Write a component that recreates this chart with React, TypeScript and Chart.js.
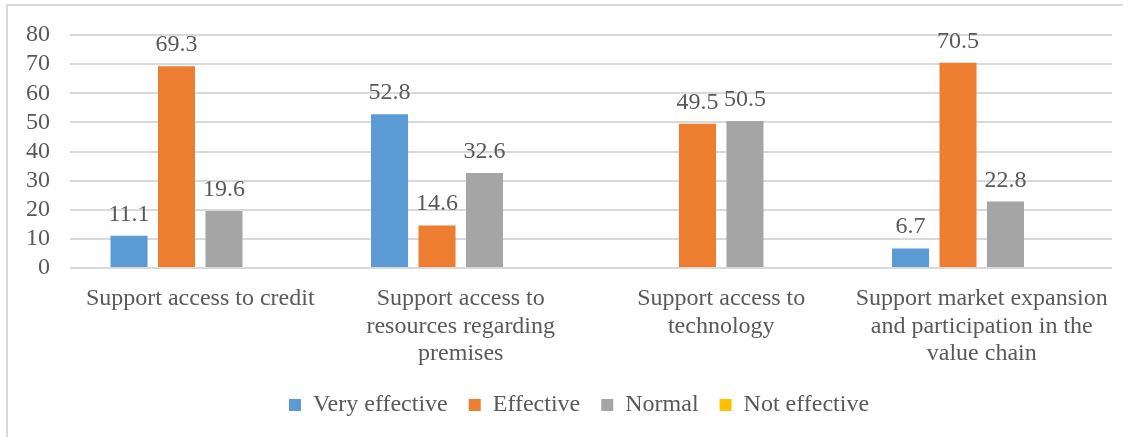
import React, { useEffect, useRef } from "react";
import { Chart, registerables } from "chart.js";

Chart.register(...registerables);

const categories: string[][] = [
  ["Support access to credit"],
  ["Support access to", "resources regarding", "premises"],
  ["Support access to", "technology"],
  ["Support market expansion", "and participation in the", "value chain"],
];
const seriesNames = ["Very effective", "Effective", "Normal", "Not effective"];
const veryEffective = [11.1, 52.8, 0, 6.7];
const effective = [69.3, 14.6, 49.5, 70.5];
const normal = [19.6, 32.6, 50.5, 22.8];
const notEffective = [0, 0, 0, 0];
const yTicks = [0, 10, 20, 30, 40, 50, 60, 70, 80];

const colors = ["#5B9BD5", "#ED7D31", "#A5A5A5", "#FFC000"];
const TEXT = "#595959";
const GRID = "#D9D9D9";
const FONT = "'Liberation Serif', 'Times New Roman', serif";
const FS = 24;

const labelPlugin = {
  id: "valueLabels",
  afterDatasetsDraw(chart: any) {
    const ctx = chart.ctx;
    ctx.save();
    ctx.font = `${FS}px ${FONT}`;
    ctx.fillStyle = TEXT;
    ctx.textAlign = "center";
    ctx.textBaseline = "alphabetic";
    chart.data.datasets.forEach((ds: any, i: number) => {
      const meta = chart.getDatasetMeta(i);
      meta.data.forEach((bar: any, j: number) => {
        const v = ds.data[j];
        if (!v) return;
        ctx.fillText(String(v), bar.x, bar.y - 15);
      });
    });
    ctx.restore();
  },
};

const framePlugin = {
  id: "frame",
  afterLayout(chart: any) {
    if (chart.legend) {
      chart.legend.left += 23;
      chart.legend.right += 23;
    }
  },
  beforeDraw(chart: any) {
    const ctx = chart.ctx;
    ctx.save();
    ctx.fillStyle = "#ffffff";
    ctx.fillRect(0, 0, chart.width, chart.height);
    ctx.strokeStyle = GRID;
    ctx.lineWidth = 2;
    ctx.beginPath();
    ctx.moveTo(7, 437);
    ctx.lineTo(7, 5);
    ctx.lineTo(1123, 5);
    ctx.stroke();
    ctx.restore();
  },
};

export default function App() {
  const ref = useRef<HTMLCanvasElement | null>(null);
  useEffect(() => {
    if (!ref.current) return;
    const series = [veryEffective, effective, normal, notEffective];
    const chart = new Chart(ref.current, {
      type: "bar",
      data: {
        labels: categories,
        datasets: series.map((d, i) => ({
          label: seriesNames[i],
          data: d,
          backgroundColor: colors[i],
          borderWidth: 0,
          categoryPercentage: 0.729,
          barPercentage: 0.78,
        })),
      },
      options: {
        animation: false,
        responsive: false,
        devicePixelRatio: 1,
        layout: { padding: { top: 35, left: 0, right: 22, bottom: 10 } },
        plugins: {
          tooltip: { enabled: false },
          legend: {
            position: "bottom",
            labels: {
              boxWidth: 12,
              boxHeight: 12,
              padding: 21,
              color: TEXT,
              font: { family: FONT, size: FS },
            },
          },
        },
        scales: {
          x: {
            grid: { display: false, drawTicks: false },
            border: { display: false },
            ticks: {
              color: TEXT,
              font: { family: FONT, size: FS, lineHeight: 1.15 },
              padding: 17,
              maxRotation: 0,
              autoSkip: false,
            },
            afterFit(scale: any) {
              scale.height = 104;
            },
          },
          y: {
            min: 0,
            max: 80,
            afterBuildTicks(scale: any) {
              scale.ticks = yTicks.map((v) => ({ value: v }));
            },
            grid: { color: GRID, lineWidth: 2, drawTicks: false },
            border: { display: false },
            ticks: {
              color: TEXT,
              font: { family: FONT, size: FS },
              padding: 20,
              autoSkip: false,
              stepSize: 10,
            },
            afterFit(scale: any) {
              scale.width = 70;
            },
          },
        },
      },
      plugins: [framePlugin, labelPlugin],
    });
    return () => chart.destroy();
  }, []);
  return (
    <div style={{ position: "absolute", left: 0, top: 0, width: 1134, height: 437 }}>
      <canvas ref={ref} width={1134} height={437} style={{ display: "block" }} />
    </div>
  );
}
